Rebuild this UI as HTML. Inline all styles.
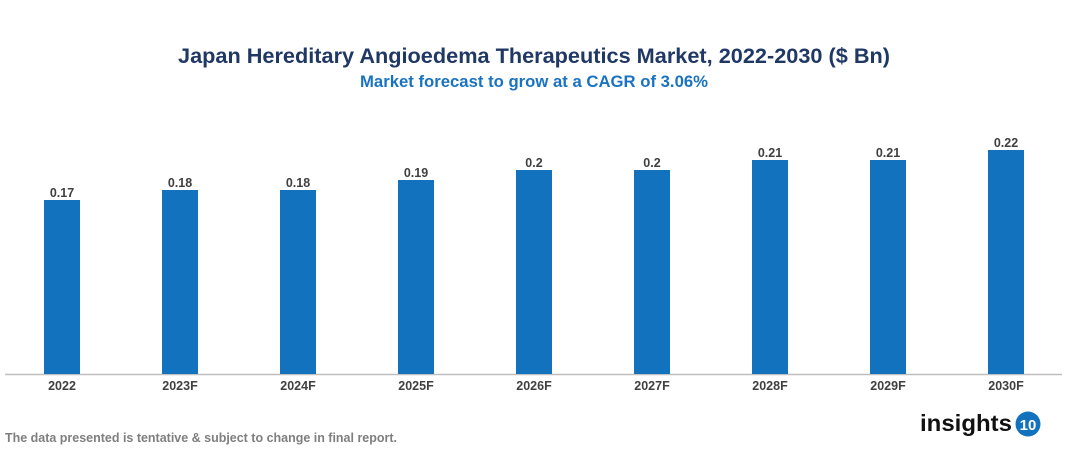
<!DOCTYPE html>
<html><head><meta charset="utf-8"><style>
body{margin:0;width:1067px;height:454px;background:#fff;overflow:hidden;font-family:"Liberation Sans",Arial,sans-serif}
</style></head><body>
<svg width="1067" height="454" xmlns="http://www.w3.org/2000/svg" font-family="Liberation Sans, Arial, sans-serif">
<text x="534" y="63" text-anchor="middle" font-size="21.5" font-weight="bold" fill="#1f3864" textLength="712" lengthAdjust="spacingAndGlyphs">Japan Hereditary Angioedema Therapeutics Market, 2022-2030 ($ Bn)</text>
<text x="534" y="87" text-anchor="middle" font-size="16.5" font-weight="bold" fill="#1a73c0" textLength="348" lengthAdjust="spacingAndGlyphs">Market forecast to grow at a CAGR of 3.06%</text>
<line x1="5" y1="374.5" x2="1062" y2="374.5" stroke="#bfbfbf" stroke-width="1.5"/>
<g fill="#1272bd">
<rect x="44" y="200" width="36" height="174"/>
<rect x="162" y="190" width="36" height="184"/>
<rect x="280" y="190" width="36" height="184"/>
<rect x="398" y="180" width="36" height="194"/>
<rect x="516" y="170" width="36" height="204"/>
<rect x="634" y="170" width="36" height="204"/>
<rect x="752" y="160" width="36" height="214"/>
<rect x="870" y="160" width="36" height="214"/>
<rect x="988" y="150" width="36" height="224"/>
</g>
<g font-size="12.5" font-weight="bold" fill="#404040" text-anchor="middle">
<text x="62" y="197">0.17</text><text x="180" y="187">0.18</text><text x="298" y="187">0.18</text>
<text x="416" y="177">0.19</text><text x="534" y="167">0.2</text><text x="652" y="167">0.2</text>
<text x="770" y="157">0.21</text><text x="888" y="157">0.21</text><text x="1006" y="147">0.22</text>
</g>
<g font-size="12.5" font-weight="bold" fill="#404040" text-anchor="middle">
<text x="62" y="390">2022</text><text x="180" y="390">2023F</text><text x="298" y="390">2024F</text>
<text x="416" y="390">2025F</text><text x="534" y="390">2026F</text><text x="652" y="390">2027F</text>
<text x="770" y="390">2028F</text><text x="888" y="390">2029F</text><text x="1006" y="390">2030F</text>
</g>
<text x="5" y="442" font-size="12.5" font-weight="bold" fill="#7f7f7f" textLength="392" lengthAdjust="spacingAndGlyphs">The data presented is tentative &amp; subject to change in final report.</text>
<text x="920" y="431" font-size="23" font-weight="bold" fill="#111" textLength="92" lengthAdjust="spacingAndGlyphs">insights</text>
<circle cx="1028" cy="424" r="12.5" fill="#1272bd"/>
<text x="1028" y="430" text-anchor="middle" font-size="15" font-weight="bold" fill="#fff">10</text>
</svg>
</body></html>
